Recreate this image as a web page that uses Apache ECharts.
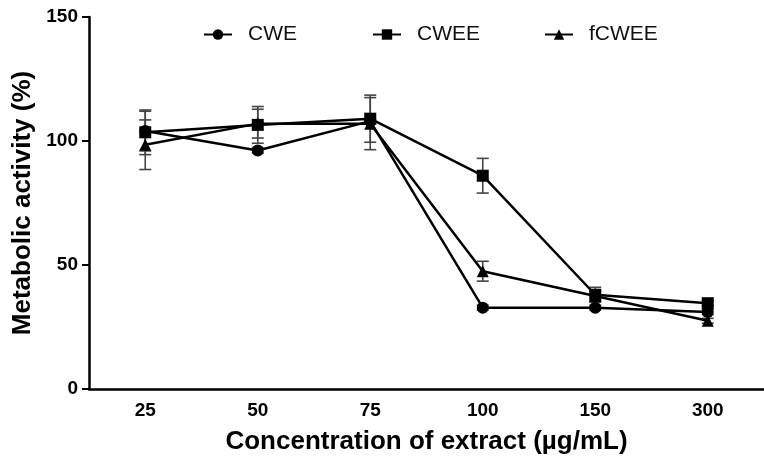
<!DOCTYPE html>
<html>
<head>
<meta charset="utf-8">
<script src="https://cdn.jsdelivr.net/npm/echarts@6/dist/echarts.min.js"></script>
<style>
  html, body { margin: 0; padding: 0; background: #fff; }
  #chart { width: 764px; height: 463px; }
</style>
</head>
<body>
<div id="chart"></div>
<script>
// concentrations (category axis)
const categories = ["25", "50", "75", "100", "150", "300"];
const seriesNames = ["CWE", "CWEE", "fCWEE"];

// mean metabolic activity (%)
const cwe = [104, 96.2, 108, 32.8, 32.8, 31];
const cwee = [103.5, 106.5, 109, 86, 38, 34.6];
const fcwee = [98.5, 107, 107, 47.5, 37.5, 27.5];

// error (+/-)
const cweErr = [8, 1, 1, 1, 1, 1];
const cweeErr = [9, 7.4, 9.5, 7, 3, 1];
const fcweeErr = [10, 5.8, 10.5, 4, 2, 1];

const yTicks = [0, 50, 100, 150];

const font = "Liberation Sans, Arial, sans-serif";
const chart = echarts.init(document.getElementById("chart"));

function errData(mean, err) {
  return mean.map(function (v, i) {
    return [i, v - err[i], v + err[i]];
  });
}

function errSeries(name, mean, err) {
  return {
    name: name,
    type: "custom",
    z: 1,
    silent: true,
    data: errData(mean, err),
    renderItem: function (params, api) {
      const lo = api.coord([api.value(0), api.value(1)]);
      const hi = api.coord([api.value(0), api.value(2)]);
      const cap = 6;
      const st = { stroke: "#444", lineWidth: 1.6 };
      return {
        type: "group",
        children: [
          { type: "line", shape: { x1: lo[0], y1: lo[1], x2: hi[0], y2: hi[1] }, style: st },
          { type: "line", shape: { x1: lo[0] - cap, y1: lo[1], x2: lo[0] + cap, y2: lo[1] }, style: st },
          { type: "line", shape: { x1: hi[0] - cap, y1: hi[1], x2: hi[0] + cap, y2: hi[1] }, style: st },
        ],
      };
    },
  };
}

function lineSeries(name, data, symbol) {
  return {
    name: name,
    type: "line",
    z: 3,
    data: data,
    symbol: symbol,
    symbolSize: 12,
    showAllSymbol: true,
    itemStyle: { color: "#000" },
    lineStyle: { color: "#000", width: 2.5 },
  };
}

const legendLeft = [203, 372, 544];

const option = {
  animation: false,
  grid: { left: 89, top: 17, width: 681, height: 372 },
  legend: seriesNames.map(function (n, i) {
    return {
      data: [n],
      left: legendLeft[i],
      top: 24,
      padding: 0,
      itemWidth: 28,
      itemHeight: 13,
      textStyle: {
        fontFamily: font,
        fontSize: 21,
        color: "#111",
        padding: [0, 0, 0, 11],
      },
    };
  }),
  xAxis: {
    type: "category",
    data: categories,
    boundaryGap: true,
    name: "Concentration of extract (\u00b5g/mL)",
    nameLocation: "middle",
    nameGap: 40,
    nameTextStyle: { fontFamily: font, fontSize: 26, fontWeight: "bold", color: "#000" },
    axisLine: { lineStyle: { color: "#000", width: 2.5 } },
    axisTick: { alignWithLabel: true, length: 7, lineStyle: { color: "#000", width: 2 } },
    axisLabel: { fontFamily: font, fontSize: 19, fontWeight: "bold", color: "#000", margin: 12 },
    splitLine: { show: false },
  },
  yAxis: {
    type: "value",
    min: yTicks[0],
    max: yTicks[yTicks.length - 1],
    interval: yTicks[1] - yTicks[0],
    name: "Metabolic activity (%)",
    nameLocation: "middle",
    nameGap: 44,
    nameTextStyle: { fontFamily: font, fontSize: 26, fontWeight: "bold", color: "#000" },
    axisLine: { show: true, lineStyle: { color: "#000", width: 2.5 } },
    axisTick: { show: true, length: 7, lineStyle: { color: "#000", width: 2 } },
    axisLabel: { fontFamily: font, fontSize: 19, fontWeight: "bold", color: "#000", margin: 11 },
    splitLine: { show: false },
  },
  series: [
    errSeries("CWE-err", cwe, cweErr),
    errSeries("CWEE-err", cwee, cweeErr),
    errSeries("fCWEE-err", fcwee, fcweeErr),
    lineSeries("CWE", cwe, "circle"),
    lineSeries("CWEE", cwee, "rect"),
    lineSeries("fCWEE", fcwee, "triangle"),
  ],
};

chart.setOption(option);
</script>
</body>
</html>
